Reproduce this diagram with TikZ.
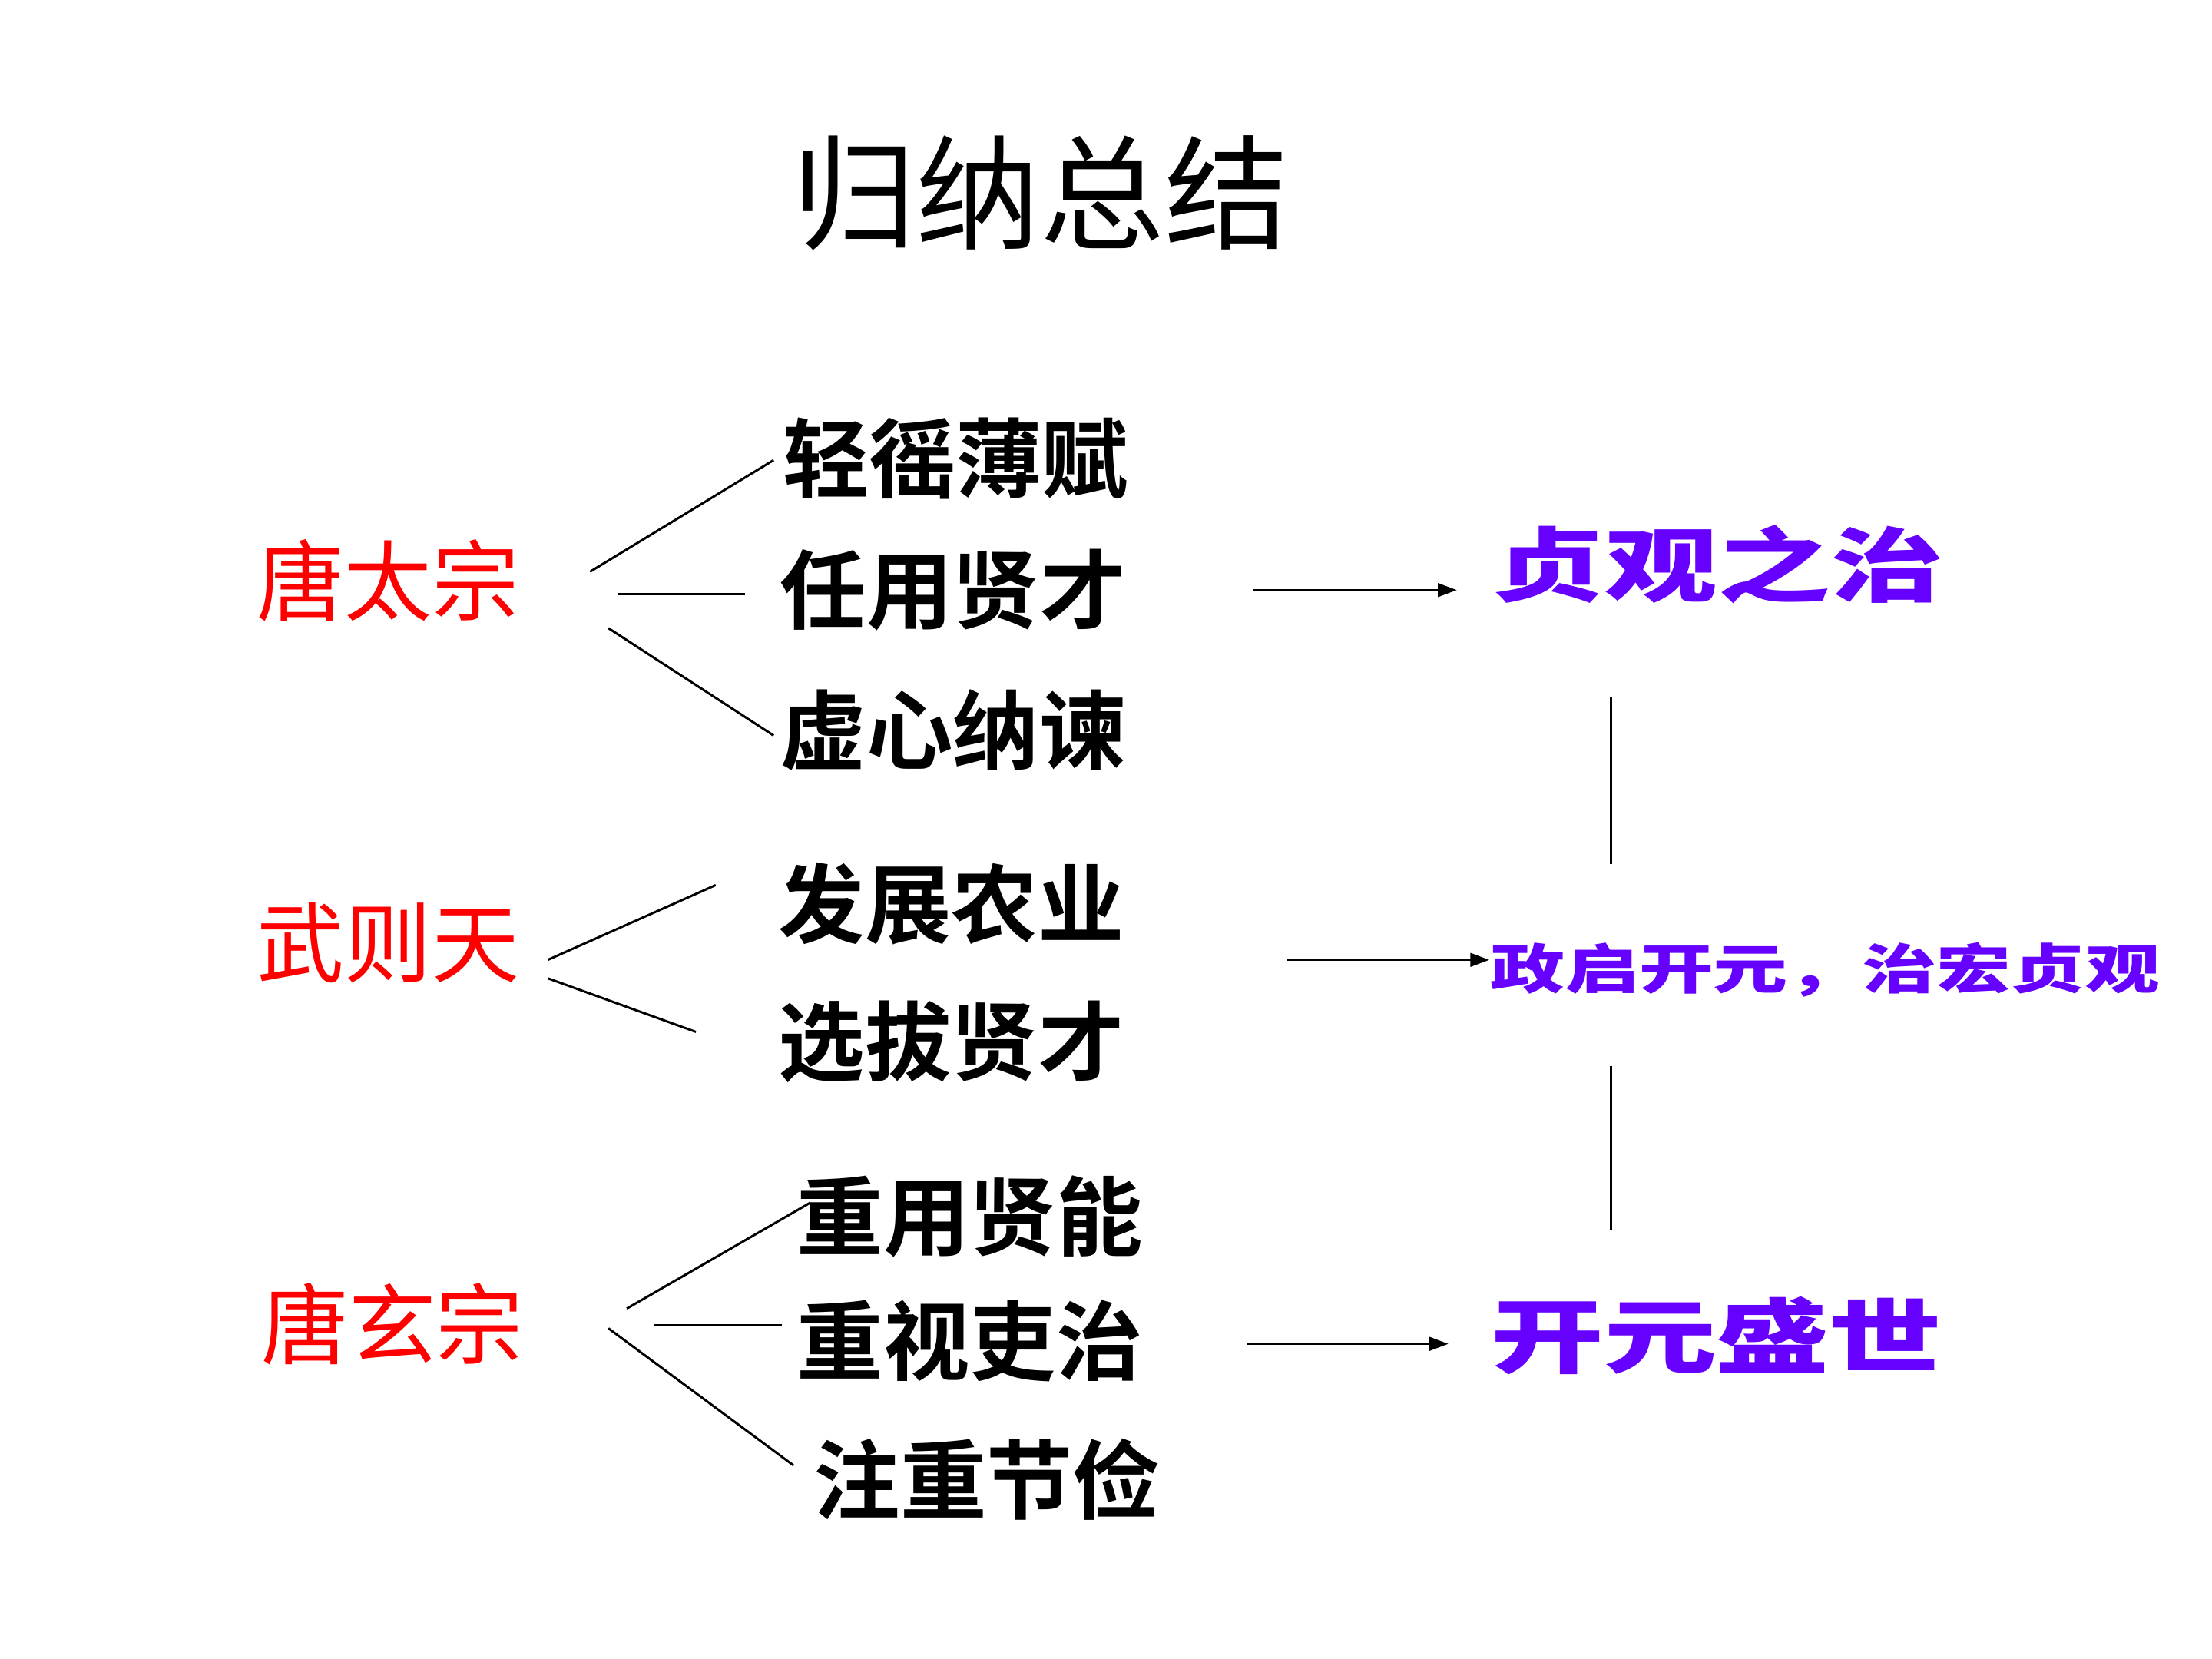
\documentclass[tikz,border=0pt]{standalone}
\usepackage{fontspec}
\usepackage{graphicx}
\usetikzlibrary{arrows.meta}
\newfontfamily\cjk{Noto Sans CJK SC}
\newfontfamily\cjkbold{Noto Sans CJK SC Bold}
\newfontfamily\cjkblack{Noto Sans CJK SC Black}
\definecolor{zpurple}{HTML}{6600FF}
\newcommand{\squat}[1]{\scalebox{1}[0.72]{#1}}
\begin{document}
\begin{tikzpicture}[x=0.01838cm,y=-0.01838cm,
  titlestyle/.style={font=\cjk\fontsize{46}{50}\selectfont, inner sep=0pt},
  ruler/.style={text=red, font=\cjk\fontsize{32.4}{36}\selectfont, inner sep=0pt},
  policy/.style={text=black, font=\cjkbold\fontsize{32}{36}\selectfont, inner sep=0pt},
  result/.style={text=zpurple, font=\cjkblack\fontsize{41.8}{46}\selectfont, inner sep=0pt},
  resultsmall/.style={text=zpurple, font=\cjkblack\fontsize{27.6}{32}\selectfont, inner sep=0pt},
  link/.style={line width=0.85pt, black},
  arr/.style={line width=0.85pt, black, -{Triangle[length=7pt,width=5pt]}}]
\useasboundingbox (0,0) rectangle (1567,1175);
\fill[white] (0,0) rectangle (1567,1175);
\node[titlestyle] (title) at (737,137) {归纳总结};
% rulers
\node[ruler] (tz) at (275,411) {唐太宗};
\node[ruler] (wz) at (275,668) {武则天};
\node[ruler] (xz) at (278,938) {唐玄宗};
% policies
\node[policy] (p1) at (677,325) {轻徭薄赋};
\node[policy] (p2) at (675,418) {任用贤才};
\node[policy] (p3) at (675,517) {虚心纳谏};
\node[policy] (p4) at (674,640) {发展农业};
\node[policy] (p5) at (674,738) {选拔贤才};
\node[policy] (p6) at (687,862) {重用贤能};
\node[policy] (p7) at (687,950) {重视吏治};
\node[policy] (p8) at (699,1048) {注重节俭};
% results
\node[result] (r1) at (1217,400) {\squat{贞观之治}};
\node[resultsmall] (r2) at (1293,687) {\squat{政启开元，治宏贞观}};
\node[result] (r3) at (1216,946) {\squat{开元盛世}};
% line endpoints
\coordinate (a1) at (418,405); \coordinate (b1) at (548,326);
\coordinate (a2) at (438,421); \coordinate (b2) at (528,421);
\coordinate (a3) at (431,445); \coordinate (b3) at (548,521);
\coordinate (a4) at (388,680); \coordinate (b4) at (507,627);
\coordinate (a5) at (388,693); \coordinate (b5) at (493,731);
\coordinate (a6) at (444,927); \coordinate (b6) at (574,852);
\coordinate (a7) at (463,939); \coordinate (b7) at (554,939);
\coordinate (a8) at (431,941); \coordinate (b8) at (562,1038);
\draw[link] (a1) -- (b1);
\draw[link] (a2) -- (b2);
\draw[link] (a3) -- (b3);
\draw[link] (a4) -- (b4);
\draw[link] (a5) -- (b5);
\draw[link] (a6) -- (b6);
\draw[link] (a7) -- (b7);
\draw[link] (a8) -- (b8);
% arrows
\coordinate (s1) at (888,418); \coordinate (e1) at (1032,418);
\coordinate (s2) at (912,680); \coordinate (e2) at (1055,680);
\coordinate (s3) at (883,952); \coordinate (e3) at (1026,952);
\draw[arr] (s1) -- (e1);
\draw[arr] (s2) -- (e2);
\draw[arr] (s3) -- (e3);
% vertical links
\coordinate (v1) at (1141,494); \coordinate (v2) at (1141,612);
\coordinate (v3) at (1141,755); \coordinate (v4) at (1141,871);
\draw[link] (v1) -- (v2);
\draw[link] (v3) -- (v4);
\end{tikzpicture}
\end{document}
